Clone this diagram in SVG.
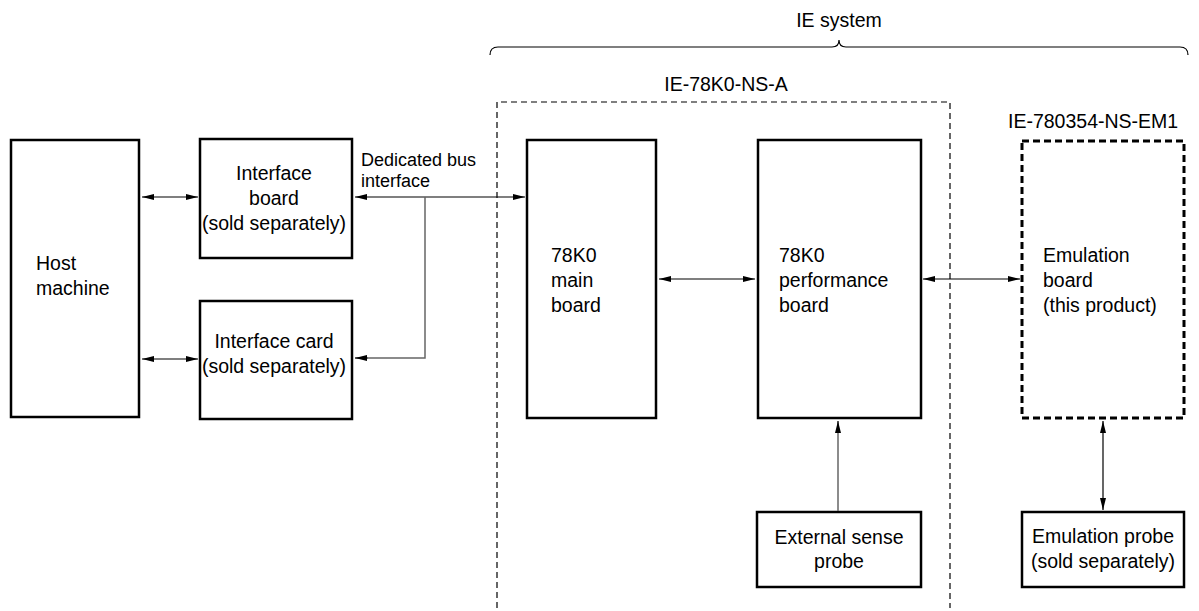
<svg xmlns="http://www.w3.org/2000/svg" width="1199" height="611" viewBox="0 0 1199 611">
<defs>
<style>
text{font-family:"Liberation Sans",Arial,sans-serif;font-size:19.5px;fill:#000}
.sm{font-size:18px}
.c{text-anchor:middle}
.box{fill:#fff;stroke:#000;stroke-width:2.5}
.dbox{fill:none;stroke:#000;stroke-width:3;stroke-dasharray:7 4}
.frame{fill:none;stroke:#000;stroke-width:1.2;stroke-dasharray:6 4}
.ln{fill:none;stroke:#000;stroke-width:1.2}
.gl{fill:none;stroke:#666;stroke-width:1.5}
</style>
<marker id="ah" viewBox="0 0 12 8" refX="12" refY="4" markerWidth="12" markerHeight="8" markerUnits="userSpaceOnUse" orient="auto-start-reverse">
<path d="M0,1 L12,4 L0,7 Z" fill="#000"/>
</marker>
</defs>

<g id="ie-system-brace">
<path class="ln" d="M490,55 Q490,47 498,47 L832,47 Q839,47 839,40 Q839,47 846,47 L1180,47 Q1188,47 1188,55"/>
<text class="c" x="839" y="27">IE system</text>
</g>

<g id="ie-78k0-ns-a">
<path class="frame" d="M497,608 L497,102 L950,102 L950,608"/>
<text class="c" x="726" y="91">IE-78K0-NS-A</text>
</g>

<g id="host-machine">
<rect class="box" x="11" y="140" width="128" height="277"/>
<text x="36" y="270">Host</text>
<text x="36" y="295">machine</text>
</g>

<g id="interface-board">
<rect class="box" x="200" y="139" width="152" height="119"/>
<text class="c" x="274" y="180">Interface</text>
<text class="c" x="274" y="205">board</text>
<text class="c" x="274" y="230">(sold separately)</text>
</g>

<g id="interface-card">
<rect class="box" x="200" y="301" width="152" height="118"/>
<text class="c" x="274" y="348">Interface card</text>
<text class="c" x="274" y="373">(sold separately)</text>
</g>

<g id="main-board">
<rect class="box" x="527" y="140" width="129" height="278"/>
<text x="551" y="262">78K0</text>
<text x="551" y="287">main</text>
<text x="551" y="312">board</text>
</g>

<g id="performance-board">
<rect class="box" x="758" y="140" width="163" height="278"/>
<text x="779" y="262">78K0</text>
<text x="779" y="287">performance</text>
<text x="779" y="312">board</text>
</g>

<g id="emulation-board">
<rect class="dbox" x="1022" y="141" width="162" height="277"/>
<text x="1043" y="262">Emulation</text>
<text x="1043" y="287">board</text>
<text x="1043" y="312">(this product)</text>
<text x="1008" y="128">IE-780354-NS-EM1</text>
</g>

<g id="external-sense-probe">
<rect class="box" x="757" y="512" width="164" height="75"/>
<text class="c" x="839" y="544">External sense</text>
<text class="c" x="839" y="568">probe</text>
</g>

<g id="emulation-probe">
<rect class="box" x="1022" y="512" width="162" height="75"/>
<text class="c" x="1103" y="543">Emulation probe</text>
<text class="c" x="1103" y="568">(sold separately)</text>
</g>

<g id="connectors">
<line class="ln" x1="142" y1="197" x2="198" y2="197" marker-start="url(#ah)" marker-end="url(#ah)"/>
<line class="ln" x1="142" y1="359" x2="198" y2="359" marker-start="url(#ah)" marker-end="url(#ah)"/>
<line class="ln" x1="355" y1="197" x2="525" y2="197" marker-start="url(#ah)" marker-end="url(#ah)"/>
<path class="gl" d="M425,197 L425,358 L368,358"/>
<line class="ln" x1="355" y1="358" x2="368" y2="358" marker-start="url(#ah)"/>
<line class="ln" x1="659" y1="279" x2="755" y2="279" marker-start="url(#ah)" marker-end="url(#ah)"/>
<line class="ln" x1="923" y1="279" x2="1020" y2="279" marker-start="url(#ah)" marker-end="url(#ah)"/>
<line class="gl" x1="838" y1="511" x2="838" y2="432"/>
<line class="ln" x1="838" y1="433" x2="838" y2="421" marker-end="url(#ah)"/>
<line class="ln" x1="1103" y1="421" x2="1103" y2="510" marker-start="url(#ah)" marker-end="url(#ah)"/>
<text class="sm" x="361" y="166">Dedicated bus</text>
<text class="sm" x="361" y="187">interface</text>
</g>
</svg>
